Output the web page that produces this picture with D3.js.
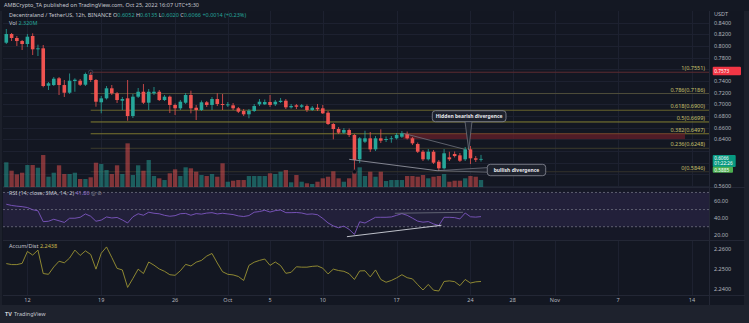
<!DOCTYPE html>
<html><head><meta charset="utf-8">
<script src="https://cdn.jsdelivr.net/npm/d3@7"></script>
<style>
html,body{margin:0;padding:0;background:#1c202b;overflow:hidden}
svg{display:block}
text{font-family:"Noto Sans","DejaVu Sans",sans-serif}
</style>
</head><body>
<svg id="chart" width="749" height="323"></svg>
<script>
// MANA/USDT 12h candles, Binance, from 10 Sep 2022 00:00 UTC
const firstCandle = Date.UTC(2022, 8, 10);
const open = [0.8057,0.8206,0.8138,0.8086,0.8035,0.8172,0.7944,0.7961,0.7320,0.7332,
  0.7447,0.7332,0.7200,0.7401,0.7406,0.7337,0.7509,0.7418,0.7036,0.7104,
  0.7276,0.7190,0.7063,0.7104,0.6801,0.7132,0.7217,0.7029,0.7190,0.7217,
  0.7075,0.7132,0.6990,0.6933,0.7029,0.7161,0.6943,0.6904,0.7036,0.6990,
  0.7092,0.7007,0.6984,0.6984,0.6933,0.6887,0.6830,0.6887,0.7001,0.7001,
  0.7041,0.7001,0.7041,0.7063,0.6950,0.6984,0.6960,0.6972,0.6904,0.6943,
  0.6933,0.6858,0.6664,0.6578,0.6515,0.6561,0.6476,0.6059,0.6361,0.6419,
  0.6230,0.6419,0.6390,0.6407,0.6419,0.6446,0.6493,0.6419,0.6321,0.6189,
  0.6059,0.6189,0.6018,0.5905,0.6093,0.6150,0.6127,0.6059,0.6230,0.6076,0.6052];
const high = [0.8292,0.8223,0.8172,0.8104,0.8206,0.8218,0.8023,0.8018,0.7384,0.7469,
  0.7469,0.7418,0.7530,0.7447,0.7435,0.7546,0.7551,0.7435,0.7144,0.7315,
  0.7332,0.7212,0.7127,0.7418,0.7178,0.7281,0.7349,0.7264,0.7298,0.7247,
  0.7161,0.7152,0.7015,0.7075,0.7195,0.7235,0.6990,0.7067,0.7058,0.7127,
  0.7190,0.7178,0.7041,0.7024,0.6955,0.6921,0.6921,0.7007,0.7092,0.7084,
  0.7161,0.7075,0.7110,0.7092,0.7007,0.7007,0.7007,0.6998,0.6972,0.7007,
  0.6990,0.6887,0.6681,0.6612,0.6595,0.6587,0.6493,0.6441,0.6549,0.6527,
  0.6458,0.6573,0.6450,0.6458,0.6510,0.6544,0.6535,0.6441,0.6347,0.6218,
  0.6235,0.6218,0.6047,0.6235,0.6189,0.6193,0.6167,0.6270,0.6287,0.6115,0.6135];
const low = [0.8035,0.8086,0.8001,0.7932,0.7984,0.7846,0.7829,0.7293,0.7247,0.7315,
  0.7161,0.7127,0.7178,0.7217,0.7315,0.7315,0.7384,0.6960,0.6847,0.7084,
  0.7161,0.7024,0.6904,0.6720,0.6767,0.7110,0.7007,0.6904,0.7161,0.7058,
  0.7058,0.6852,0.6818,0.6904,0.7007,0.6847,0.6732,0.6887,0.6955,0.6904,
  0.6972,0.6904,0.6955,0.6904,0.6852,0.6801,0.6762,0.6870,0.6972,0.6990,
  0.6955,0.6972,0.7024,0.6921,0.6929,0.6921,0.6938,0.6870,0.6887,0.6887,
  0.6835,0.6647,0.6402,0.6493,0.6493,0.6441,0.5846,0.5995,0.6338,0.6184,
  0.6201,0.6338,0.6355,0.6343,0.6398,0.6424,0.6398,0.6304,0.6167,0.6030,
  0.6038,0.5978,0.5858,0.5884,0.6030,0.6090,0.6013,0.6030,0.5978,0.6013,0.6020];
const close = [0.8206,0.8138,0.8086,0.8035,0.8160,0.7944,0.7961,0.7315,0.7361,0.7440,
  0.7332,0.7200,0.7406,0.7423,0.7337,0.7521,0.7418,0.7046,0.7104,0.7276,
  0.7190,0.7075,0.7092,0.6801,0.7132,0.7217,0.7029,0.7217,0.7217,0.7075,
  0.7132,0.6990,0.6933,0.7046,0.7161,0.6933,0.6904,0.7036,0.6990,0.7092,
  0.7007,0.6990,0.7001,0.6933,0.6875,0.6830,0.6892,0.6972,0.7046,0.7041,
  0.6990,0.7046,0.7063,0.6950,0.6972,0.6960,0.6984,0.6904,0.6943,0.6916,
  0.6847,0.6664,0.6578,0.6515,0.6561,0.6476,0.6047,0.6419,0.6419,0.6230,
  0.6419,0.6378,0.6407,0.6419,0.6476,0.6505,0.6419,0.6333,0.6189,0.6059,
  0.6189,0.6001,0.5905,0.6162,0.6059,0.6115,0.6035,0.6230,0.6076,0.6052,0.6066];
// volume, millions of MANA
const volume = [7.95,5.28,4.13,4.64,7.09,7.09,6.23,10.27,3.37,4.64,
  7.00,4.23,4.23,4.64,2.64,2.64,3.18,7.82,7.41,5.50,
  4.23,7.00,4.23,13.99,3.91,7.00,5.28,8.68,3.59,2.86,
  2.32,4.45,5.72,3.59,6.36,6.04,4.96,3.91,3.59,4.23,
  3.37,7.63,1.78,2.10,2.32,2.32,3.59,3.59,3.59,3.59,
  4.45,4.23,4.96,5.50,1.59,3.91,1.78,1.27,1.05,1.78,
  2.86,3.37,5.09,2.86,1.78,2.86,5.00,6.36,3.59,4.96,
  3.37,4.96,2.00,2.32,2.32,2.32,3.59,3.59,3.37,3.91,
  2.86,3.37,3.59,4.23,1.78,2.10,2.10,2.86,3.59,3.37,2.32];
const rsi = [56.2,54.8,54.0,53.4,52.4,49.8,48.6,35.9,36.4,38.7,
  36.9,35.0,39.9,39.9,41.0,44.9,42.2,36.4,37.7,41.4,
  40.2,40.8,37.9,34.4,41.6,45.1,43.4,46.9,45.7,45.1,
  43.3,42.2,42.9,45.2,45.5,43.4,45.3,44.7,45.9,46.4,
  44.9,45.7,44.9,44.2,42.6,41.9,43.0,46.9,47.7,49.2,
  47.1,48.8,49.5,46.4,46.4,46.6,46.0,44.5,44.9,44.0,
  39.7,34.4,30.9,28.8,30.7,26.9,21.0,35.8,34.3,37.7,
  41.0,41.0,41.0,41.4,43.3,45.3,43.3,40.0,36.5,35.3,
  36.0,33.3,31.4,41.0,41.0,40.6,39.1,46.0,41.6,41.2,41.8];
// Accumulation/Distribution, billions
const accDist = [2.2528,2.2523,2.2523,2.2529,2.2589,2.2571,2.2596,2.2478,2.2474,2.2511,
  2.2540,2.2532,2.2556,2.2596,2.2569,2.2592,2.2574,2.2500,2.2580,2.2612,
  2.2559,2.2504,2.2496,2.2408,2.2453,2.2500,2.2478,2.2536,2.2520,2.2501,
  2.2489,2.2472,2.2469,2.2492,2.2524,2.2516,2.2535,2.2544,2.2566,2.2579,
  2.2531,2.2487,2.2474,2.2471,2.2463,2.2443,2.2519,2.2535,2.2544,2.2551,
  2.2519,2.2536,2.2518,2.2479,2.2484,2.2512,2.2510,2.2510,2.2514,2.2516,
  2.2505,2.2476,2.2500,2.2493,2.2489,2.2477,2.2448,2.2491,2.2492,2.2461,
  2.2496,2.2448,2.2434,2.2443,2.2456,2.2472,2.2457,2.2451,2.2422,2.2395,
  2.2423,2.2394,2.2390,2.2438,2.2441,2.2437,2.2417,2.2448,2.2430,2.2436,2.2438];

const priceTicks = [0.84,0.82,0.80,0.78,0.76,0.74,0.72,0.70,0.68,0.66,0.64,0.62,0.60,0.58,0.56];
const rsiTicks = [60,40,20];
const adTicks = [2.26,2.25,2.24];
const tickDates = [[2022,8,12],[2022,8,19],[2022,8,26],[2022,9,1],[2022,9,5],[2022,9,10],
  [2022,9,17],[2022,9,24],[2022,9,28],[2022,10,1],[2022,10,7],[2022,10,14]];
const tickLabels = ["12","19","26","Oct","5","10","17","24","28","Nov","7","14"];
const fibLevels = ["1","0.786","0.618","0.5","0.382","0.236","0"];
const fibPrices = [0.7551,0.7186,0.6900,0.6699,0.6497,0.6248,0.5846];
const fibColors = ["#5c2a30","#4e4d3a","#66622c","#858032","#7a752e","#3c3b2c","#33322a"];

const UP = "#26a69a", DOWN = "#ef5350";
const svg = d3.select("#chart");
const W = 749, H = 323;
const plotL = 3, plotR = 709;
const pane = {main:[11,187], rsi:[187,240], ad:[240,295]};

const times = close.map((_, i) => new Date(firstCandle + i * 12 * 3600e3));
const x = d3.scaleUtc().domain([new Date(Date.UTC(2022,8,10)), new Date(Date.UTC(2022,10,14))]).range([6.3, 692]);
const y = d3.scaleLinear().domain([0.56, 0.84]).range([186.1, 22.7]);
const yVol = d3.scaleLinear().domain([0, 14]).range([187.3, 143.3]);
const yRsi = d3.scaleLinear().domain([20, 60]).range([235.3, 201]);
const yAd = d3.scaleLinear().domain([2.24, 2.26]).range([289, 249.3]);

// backgrounds
svg.append("rect").attr("width", W).attr("height", H).attr("fill", "#1c202b");
svg.append("rect").attr("x", 0).attr("y", 0).attr("width", W).attr("height", 11).attr("fill", "#141823");
svg.append("rect").attr("x", plotL - 1).attr("y", 11).attr("width", 745 - plotL).attr("height", 294).attr("fill", "#131722");

svg.append("text").attr("x", 4).attr("y", 7).attr("font-size", 5.5).attr("fill", "#c3c6ce")
  .text("AMBCrypto_TA published on TradingView.com, Oct 25, 2022 16:07 UTC+5:30");

const defs = svg.append("defs");
Object.entries(pane).forEach(([k, [t, b]]) => {
  defs.append("clipPath").attr("id", "clip-" + k).append("rect")
    .attr("x", plotL).attr("y", t).attr("width", plotR - plotL).attr("height", b - t);
});

// vertical grid
const grid = svg.append("g").attr("stroke", "#1d2130").attr("stroke-width", 1);
tickDates.forEach(d => {
  const gx = Math.round(x(new Date(Date.UTC(...d)))) + 0.5;
  grid.append("line").attr("x1", gx).attr("x2", gx).attr("y1", 11).attr("y2", 295);
});
// horizontal price grid
priceTicks.forEach(p => {
  const gy = Math.round(y(p)) + 0.5;
  grid.append("line").attr("x1", plotL).attr("x2", plotR).attr("y1", gy).attr("y2", gy);
});

// RSI pane background + band
svg.append("rect").attr("x", plotL).attr("y", pane.rsi[0]).attr("width", plotR - plotL)
  .attr("height", pane.rsi[1] - pane.rsi[0]).attr("fill", "#161827");
svg.append("rect").attr("x", plotL).attr("y", yRsi(70)).attr("width", plotR - plotL)
  .attr("height", yRsi(30) - yRsi(70)).attr("fill", "#7e57c2").attr("fill-opacity", 0.12);
[70, 50, 30].forEach(v => {
  svg.append("line").attr("x1", plotL).attr("x2", plotR).attr("y1", yRsi(v)).attr("y2", yRsi(v))
    .attr("stroke", "#6e7080").attr("stroke-width", 0.8).attr("stroke-dasharray", "2,2");
});

// pane separators
[pane.main[1], pane.rsi[1], pane.ad[1]].forEach(v => {
  svg.append("line").attr("x1", plotL).attr("x2", 745).attr("y1", v + 0.5).attr("y2", v + 0.5)
    .attr("stroke", "#232735").attr("stroke-width", 1);
});
svg.append("line").attr("x1", plotR + 0.5).attr("x2", plotR + 0.5).attr("y1", 11).attr("y2", 305)
  .attr("stroke", "#232735");

// Fibonacci retracement
const fibX0 = x(times[16]);
const fib = svg.append("g").attr("clip-path", "url(#clip-main)");
fibPrices.forEach((p, i) => {
  fib.append("line").attr("x1", fibX0).attr("x2", plotR).attr("y1", y(p)).attr("y2", y(p))
    .attr("stroke", fibColors[i]).attr("stroke-width", 1);
});
// resistance zone
fib.append("rect").attr("x", x(new Date(Date.UTC(2022,9,17,15)))).attr("y", y(0.6505))
  .attr("width", 685 - x(new Date(Date.UTC(2022,9,17,15)))).attr("height", y(0.6405) - y(0.6505))
  .attr("fill", "#6b1f2a").attr("fill-opacity", 0.7);

// volume
const volG = svg.append("g").attr("clip-path", "url(#clip-main)");
volG.selectAll("rect").data(volume).join("rect")
  .attr("x", (d, i) => x(times[i]) - 2.15).attr("width", 4.3)
  .attr("y", d => yVol(d)).attr("height", d => yVol(0) - yVol(d))
  .attr("fill", (d, i) => close[i] >= open[i] ? UP : DOWN).attr("fill-opacity", 0.5);

// candles
const cg = svg.append("g").attr("clip-path", "url(#clip-main)");
close.forEach((c, i) => {
  const o = open[i], col = c >= o ? UP : DOWN, cx = x(times[i]);
  cg.append("line").attr("x1", cx).attr("x2", cx).attr("y1", y(high[i])).attr("y2", y(low[i]))
    .attr("stroke", col).attr("stroke-width", 0.8);
  const top = y(Math.max(o, c)), bot = y(Math.min(o, c));
  cg.append("rect").attr("x", cx - 1.8).attr("width", 3.6).attr("y", top)
    .attr("height", Math.max(0.8, bot - top)).attr("fill", col);
});

// fib anchors
svg.append("circle").attr("cx", fibX0).attr("cy", y(0.7551)).attr("r", 2.2)
  .attr("fill", "none").attr("stroke", "#3a3f55").attr("stroke-width", 0.9);
svg.append("circle").attr("cx", x(times[66])).attr("cy", y(0.5846)).attr("r", 2)
  .attr("fill", "#0c0e15").attr("stroke", "#2a2e3c").attr("stroke-width", 0.6);

// divergence trend lines on price
const tl = (t0, p0, t1, p1, ys, col, w) => svg.append("line")
  .attr("x1", x(new Date(t0))).attr("y1", ys(p0)).attr("x2", x(new Date(t1))).attr("y2", ys(p1))
  .attr("stroke", col).attr("stroke-width", w);
tl(Date.UTC(2022,9,12,12), 0.6059, Date.UTC(2022,9,20,20), 0.5864, y, "#8e919c", 0.9);
tl(Date.UTC(2022,9,17,15), 0.6505, Date.UTC(2022,9,23,11), 0.6230, y, "#70737e", 0.8);

// callouts
function callout(label, bx, by, bw, bh, tail) {
  const g = svg.append("g");
  g.append("path").attr("d", d3.line()(tail)).attr("fill", "#1e222d").attr("stroke", "#8a8d98").attr("stroke-width", 0.6);
  g.append("rect").attr("x", bx).attr("y", by).attr("width", bw).attr("height", bh).attr("rx", 3)
    .attr("fill", "#1e222d").attr("stroke", "#8a8d98").attr("stroke-width", 0.8);
  g.append("text").attr("x", bx + bw / 2).attr("y", by + bh / 2 + 1.8).attr("text-anchor", "middle")
    .attr("font-size", 5).attr("font-weight", "bold").attr("fill", "#e8e9ed").text(label);
}
const tipB = [x(new Date(Date.UTC(2022,9,23,20))), y(0.6218)];
callout("Hidden bearish divergence", 432.3, 110.7, 73.7, 11,
  [[465, 121.5], tipB, [472, 121.5]]);
const tipL = [x(new Date(Date.UTC(2022,9,20,20))), y(0.5864)];
callout("bullish divergence", 487.3, 164.3, 58.4, 11.4,
  [[487.6, 167.6], tipL, [487.6, 172.2]]);

// header
const hdr = svg.append("text").attr("x", 9).attr("y", 17).attr("font-size", 5.5).attr("fill", "#c3c6ce");
hdr.append("tspan").text("Decentraland / TetherUS, 12h, BINANCE  ");
const last = close.length - 1;
const chg = close[last] - close[last - 1];
[["O", open[last]], ["H", high[last]], ["L", low[last]], ["C", close[last]]].forEach(([k, v]) => {
  hdr.append("tspan").attr("fill", "#c3c6ce").text(" " + k);
  hdr.append("tspan").attr("fill", UP).text(v.toFixed(4));
});
hdr.append("tspan").attr("fill", UP).text(" +" + chg.toFixed(4) + " (+" + (chg / close[last - 1] * 100).toFixed(2) + "%)");
const vh = svg.append("text").attr("x", 9).attr("y", 24.5).attr("font-size", 5.5).attr("fill", "#c3c6ce");
vh.append("tspan").text("Vol ");
vh.append("tspan").attr("fill", UP).text(volume[last].toFixed(3) + "M");

// RSI line
const rg = svg.append("g").attr("clip-path", "url(#clip-rsi)");
rg.append("path").datum(rsi).attr("fill", "none").attr("stroke", "#7e57c2").attr("stroke-width", 0.9)
  .attr("d", d3.line().x((d, i) => x(times[i])).y(d => yRsi(d)));
tl(Date.UTC(2022,9,12,7), 18.4, Date.UTC(2022,9,21,6), 31.7, yRsi, "#d1d4dc", 0.9);
tl(Date.UTC(2022,9,16,20), 45.7, Date.UTC(2022,9,23,7), 46.8, yRsi, "#6f7280", 0.8);
const rh = svg.append("text").attr("x", 9).attr("y", 195).attr("font-size", 5.5).attr("fill", "#c3c6ce");
rh.append("tspan").text("RSI (14, close, SMA, 14, 2)  ");
rh.append("tspan").attr("fill", "#9575cd").text(rsi[last].toFixed(2));
rh.append("tspan").attr("fill", "#8a8d98").text("  \u25CE  \u2298");

// Accum/Dist line
const ag = svg.append("g").attr("clip-path", "url(#clip-ad)");
ag.append("path").datum(accDist).attr("fill", "none").attr("stroke", "#9c9433").attr("stroke-width", 0.9)
  .attr("d", d3.line().x((d, i) => x(times[i])).y(d => yAd(d)));
const ah = svg.append("text").attr("x", 9).attr("y", 247.5).attr("font-size", 5.5).attr("fill", "#c3c6ce");
ah.append("tspan").text("Accum/Dist  ");
ah.append("tspan").attr("fill", "#c9b94a").text(accDist[last].toFixed(4));

// fib labels
fibPrices.forEach((p, i) => {
  svg.append("text").attr("x", 705).attr("y", y(p) - 1.8).attr("text-anchor", "end")
    .attr("font-size", 5.5).attr("fill", "#c8c06a").text(fibLevels[i] + "(" + p.toFixed(4) + ")");
});

// axis price tags (tick labels under a tag stay hidden)
const tags = [
  {y: y(0.7573), h: 8.4, w: 28.3, fill: "#f23645", lines: ["0.7573"]},
  {y: y(close[last]) + 2.1, h: 12, w: 23, fill: "#089981", lines: [close[last].toFixed(4), "01:22:26"]},
  {y: y(0.5885) + 0.4, h: 6, w: 20.3, fill: "#4caf50", lines: ["0.5885"]}
];
const covered = yy => tags.some(t => yy > t.y - t.h / 2 - 4 && yy < t.y + t.h / 2 + 4);

// right axes
const axT = svg.append("g").attr("font-size", 5.5).attr("fill", "#b2b5be");
axT.append("text").attr("x", 714).attr("y", 16).text("USDT");
priceTicks.filter(p => !covered(y(p))).forEach(p => axT.append("text").attr("x", 714).attr("y", y(p) + 2).text(p.toFixed(4)));
rsiTicks.forEach(v => axT.append("text").attr("x", 714).attr("y", yRsi(v) + 2).text(v.toFixed(2)));
adTicks.forEach(v => axT.append("text").attr("x", 714).attr("y", yAd(v) + 2).text(v.toFixed(4)));

tags.forEach(t => {
  svg.append("rect").attr("x", 712.7).attr("y", t.y - t.h / 2).attr("width", t.w).attr("height", t.h)
    .attr("rx", 1).attr("fill", t.fill);
  const fs = t.lines.length > 1 ? 4.6 : 4.8;
  t.lines.forEach((s, k) => svg.append("text").attr("x", 714.3)
    .attr("y", t.y - t.h / 2 + (t.lines.length > 1 ? 4.9 + k * 5.2 : t.h / 2 + 1.7))
    .attr("font-size", fs).attr("fill", "#ffffff").text(s));
});

// x axis
const xt = svg.append("g").attr("font-size", 5.5).attr("fill", "#b2b5be").attr("text-anchor", "middle");
tickDates.forEach((d, i) => xt.append("text").attr("x", x(new Date(Date.UTC(...d)))).attr("y", 302).text(tickLabels[i]));

// footer
svg.append("rect").attr("x", 0).attr("y", 305).attr("width", W).attr("height", 18).attr("fill", "#1e222d");
svg.append("text").attr("x", 5).attr("y", 316).attr("font-size", 5.5).attr("font-weight", "bold")
  .attr("fill", "#d1d4dc").text("TV");
svg.append("text").attr("x", 14).attr("y", 316).attr("font-size", 5.5).attr("fill", "#c3c6ce").text("TradingView");
</script>
</body></html>
